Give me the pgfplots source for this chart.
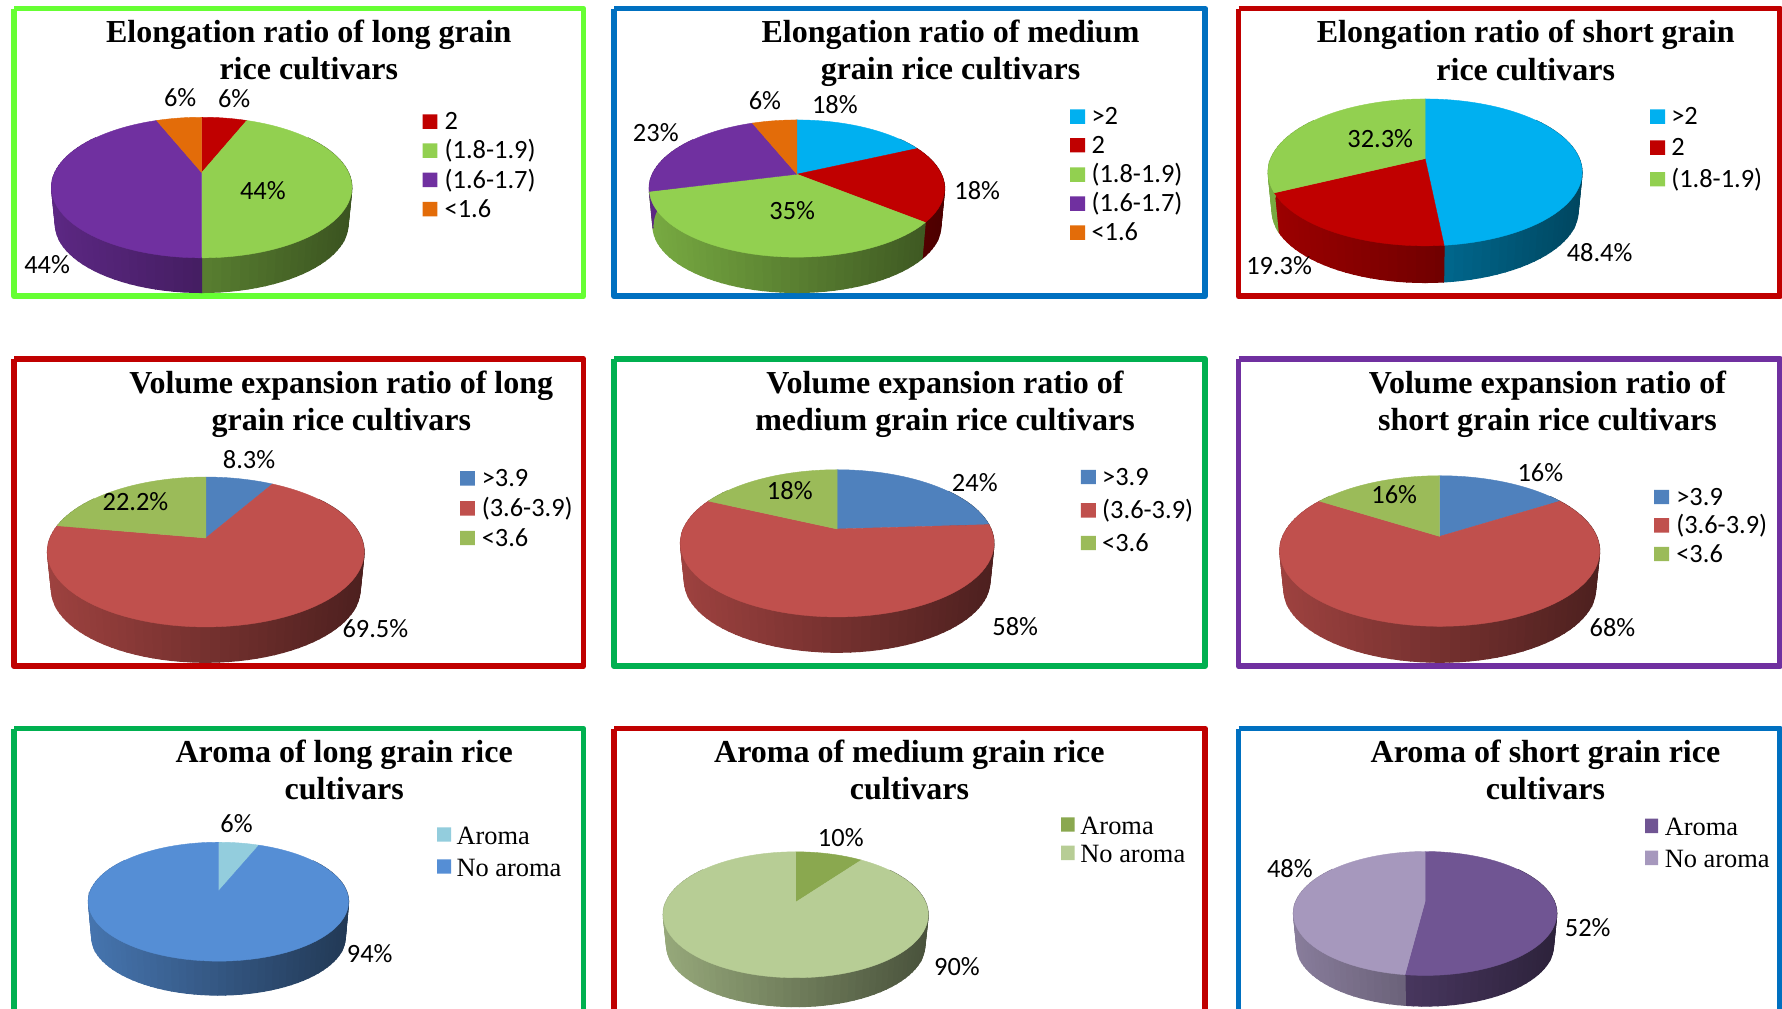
\documentclass[border=0pt]{standalone}
\usepackage{fontspec}
\usepackage{pgfplots}
\pgfplotsset{compat=1.18}
\setmainfont{Carlito}
\newfontfamily\serifface{Liberation Serif}

% slice palettes
\definecolor{eBlue}{HTML}{00B0F0}
\definecolor{eRed}{HTML}{C00000}
\definecolor{eGreen}{HTML}{92D050}
\definecolor{ePurple}{HTML}{7030A0}
\definecolor{eOrange}{HTML}{E36C09}
\definecolor{vBlue}{HTML}{4F81BD}
\definecolor{vRed}{HTML}{C0504D}
\definecolor{vGreen}{HTML}{9BBB59}
\definecolor{aCyan}{HTML}{93CDDD}
\definecolor{aBlue}{HTML}{558ED5}
\definecolor{aOlive}{HTML}{8AA84F}
\definecolor{aSage}{HTML}{B7CD95}
\definecolor{aPlum}{HTML}{705593}
\definecolor{aLilac}{HTML}{A698BD}
% panel frames
\definecolor{fLime}{HTML}{66FF33}
\definecolor{fBlue}{HTML}{0070C0}
\definecolor{fRed}{HTML}{C00000}
\definecolor{fGreen}{HTML}{00B050}
\definecolor{fPurple}{HTML}{7030A0}

% Point of the disc rim at angle #1 (clockwise from twelve o'clock), seen in perspective
\newcommand{\RimPoint}[1]{%
  \pgfmathsetmacro\Xr{\pb*sin(#1)/(1+\pk*cos(#1))}%
  \pgfmathsetmacro\Yr{-\pa*cos(#1)/(1+\pk*cos(#1))}%
  \pgfmathsetmacro\Xt{\ax+\Xr}%
  \pgfmathsetmacro\Yt{\ay+\Yr}%
  \pgfmathsetmacro\Xb{\ax+0.975*\Xr}%
  \pgfmathsetmacro\Yb{\ay+\dep+0.975*\Yr}%
}

% #1,#2 centre; #3 top edge; #4 front edge of the disc; #5 half width; #6 lowest edge; #7 value/colour list
\newcommand{\PieChart}[7]{%
  \def\ax{#1}\def\ay{#2}\def\hw{#5}%
  \pgfmathsetmacro\pk{((#4-#2)-(#2-#3))/((#4-#2)+(#2-#3))}%
  \pgfmathsetmacro\pa{(#4-#2)*(1-\pk)}%
  \pgfmathsetmacro\pb{#5*sqrt(1-\pk*\pk)}%
  \pgfmathsetmacro\dep{#6-#2-0.975*(#4-#2)}%
  % side wall, shaded from left to right
  \gdef\cum{0}%
  \foreach \val/\col in {#7}{%
    \pgfmathsetmacro\endang{\cum+3.6*\val}%
    \pgfmathtruncatemacro\nstr{ceil((\endang-\cum)/3)}%
    \pgfmathsetmacro\stp{(\endang-\cum)/\nstr}%
    \foreach \i in {1,...,\nstr}{%
      \pgfmathsetmacro\tA{\cum+(\i-1)*\stp}%
      \pgfmathsetmacro\tB{\cum+\i*\stp}%
      \pgfmathtruncatemacro\vis{cos(0.5*(\tA+\tB))>0.6 ? 0 : 1}%
      \ifnum\vis=1
        \RimPoint{\tA}%
        \edef\pA{(\Xt,\Yt)}\edef\pD{(\Xb,\Yb)}\let\xa\Xr
        \RimPoint{\tB}%
        \edef\pB{(\Xt,\Yt)}\edef\pC{(\Xb,\Yb)}%
        \pgfmathsetmacro\pct{82-42*(0.5*(\xa+\Xr)+\hw)/(2*\hw)}%
        \edef\tmp{\noexpand\addplot[fill=\col!\pct!black,draw=\col!\pct!black,line width=0.5pt] coordinates {\pA \pB \pC \pD \pA};}%
        \tmp
      \fi
    }%
    \xdef\cum{\endang}%
  }%
  % top surface
  \gdef\cum{0}%
  \foreach \val/\col in {#7}{%
    \pgfmathsetmacro\endang{\cum+3.6*\val}%
    \pgfmathtruncatemacro\nstr{ceil((\endang-\cum)/3)}%
    \pgfmathsetmacro\stp{(\endang-\cum)/\nstr}%
    \xdef\coords{(\ax,\ay)}%
    \foreach \i in {0,...,\nstr}{%
      \pgfmathsetmacro\tA{\cum+\i*\stp}%
      \RimPoint{\tA}%
      \xdef\coords{\coords (\Xt,\Yt)}%
    }%
    \edef\tmp{\noexpand\addplot[fill=\col,draw=\col,line width=0.2pt] coordinates {\coords (\ax,\ay)};}%
    \tmp
    \xdef\cum{\endang}%
  }%
}

% panel outline: x0, x1, y0, y1, colour
\newcommand{\Frame}[5]{%
  \addplot[draw=#5,line width=2.9pt,line join=round] coordinates {(#1,#3) (#2,#3) (#2,#4) (#1,#4) (#1,#3)};%
}
% two-line bold heading: centre x, first baseline, second baseline, lines
\newcommand{\Heading}[5]{%
  \node[anchor=base,inner sep=0pt,yshift=-0.6pt,font=\serifface\bfseries\fontsize{16}{18}\selectfont] at (#1,#2) {#4};%
  \node[anchor=base,inner sep=0pt,yshift=-0.6pt,font=\serifface\bfseries\fontsize{16}{18}\selectfont] at (#1,#3) {#5};%
}
% data label centred on x,y
\newcommand{\Lab}[3]{%
  \node[anchor=base,inner sep=0pt,yshift=-4.1pt,font=\fontsize{13.2}{15}\selectfont] at (#1,#2) {#3};%
}
% legend row: swatch left, right, centre y, colour; text x, text, font
\newcommand{\Key}[7]{%
  \pgfmathsetmacro\ka{#3-7.2}\pgfmathsetmacro\kb{#3+7.2}%
  \edef\tmp{\noexpand\addplot[fill=#4,draw=none] coordinates {(#1,\ka) (#2,\ka) (#2,\kb) (#1,\kb) (#1,\ka)};}%
  \tmp
  \node[anchor=base west,inner sep=0pt,yshift=-4.1pt,font=#7\fontsize{13.2}{15}\selectfont] at (#5,#3) {#6};%
}

\begin{document}
\begin{tikzpicture}
\begin{axis}[
  scale only axis,
  width=891pt,
  height=504.2pt,
  xmin=0, xmax=1782,
  ymin=0, ymax=1009,
  y dir=reverse,
  hide axis,
]
% white sheet over the whole drawing area
\addplot[fill=white,draw=none] coordinates {(0,0) (1782,0) (1782,1009) (0,1009) (0,0)};
% panel outlines
\Frame{14}{583.5}{8.5}{296.5}{fLime}
\Frame{614}{1205}{8.5}{296.5}{fBlue}
\Frame{1238.5}{1780}{8.5}{296.5}{fRed}
\Frame{14}{583.5}{359}{666.5}{fRed}
\Frame{614}{1205}{359}{666.5}{fGreen}
\Frame{1238.5}{1780}{359}{666.5}{fPurple}
\Frame{14}{583.5}{729}{1030}{fGreen}
\Frame{614}{1205}{729}{1030}{fRed}
\Frame{1238.5}{1780}{729}{1030}{fBlue}

% elongation ratio
\PieChart{201.7}{172.7}{117.3}{258}{150.2}{292.7}{6/eRed,44/eGreen,44/ePurple,6/eOrange}
\PieChart{796.9}{174.3}{120}{257.3}{147.7}{292.7}{18/eBlue,18/eRed,35/eGreen,23/ePurple,6/eOrange}
\PieChart{1425.1}{158.7}{99}{246}{157}{282.7}{48.4/eBlue,19.3/eRed,32.3/eGreen}
% volume expansion ratio
\PieChart{205.8}{538.3}{477.3}{627.3}{158.4}{662.7}{8.3/vBlue,69.5/vRed,22.2/vGreen}
\PieChart{837.2}{529.3}{470}{617.3}{156.8}{652.7}{24/vBlue,58/vRed,18/vGreen}
\PieChart{1439.7}{536.7}{476}{626.7}{160}{662.7}{16/vBlue,68/vRed,16/vGreen}
% aroma
\PieChart{218.5}{891.7}{842.7}{961.7}{130.1}{995.7}{6/aCyan,94/aBlue}
\PieChart{795.7}{902.7}{852.3}{978.3}{132.5}{1007.3}{10/aOlive,90/aSage}
\PieChart{1425.1}{901.7}{852}{976}{131.7}{1006.7}{52/aPlum,48/aLilac}

% headings
\Heading{308.8}{41.7}{78.3}{Elongation ratio of long grain}{rice cultivars}
\Heading{950.5}{41.7}{78.3}{Elongation ratio of medium}{grain rice cultivars}
\Heading{1525.7}{41.7}{79}{Elongation ratio of short grain}{rice cultivars}
\Heading{341.3}{392.3}{429.3}{Volume expansion ratio of long}{grain rice cultivars}
\Heading{945}{392.3}{429.3}{Volume expansion ratio of}{medium grain rice cultivars}
\Heading{1547.4}{392.3}{429.3}{Volume expansion ratio of}{short grain rice cultivars}
\Heading{344.2}{761.7}{798.3}{Aroma of long grain rice}{cultivars}
\Heading{909.4}{761.7}{799}{Aroma of medium grain rice}{cultivars}
\Heading{1545.5}{761.7}{798.3}{Aroma of short grain rice}{cultivars}

% slice labels
\Lab{180.2}{98}{6\%}\Lab{234.2}{99}{6\%}\Lab{262.9}{191}{44\%}\Lab{47.1}{265}{44\%}
\Lab{834.9}{105}{18\%}\Lab{977.2}{191}{18\%}\Lab{792.2}{211}{35\%}\Lab{655.8}{133}{23\%}\Lab{764.9}{101}{6\%}
\Lab{1599.6}{253}{48.4\%}\Lab{1279.1}{266}{19.3\%}\Lab{1380.2}{139}{32.3\%}
\Lab{249.1}{461}{8.3\%}\Lab{375.4}{630}{69.5\%}\Lab{135.5}{503}{22.2\%}
\Lab{974.8}{484}{24\%}\Lab{1015.2}{628}{58\%}\Lab{789.8}{492}{18\%}
\Lab{1540.4}{474}{16\%}\Lab{1612.5}{629}{68\%}\Lab{1394.2}{496}{16\%}
\Lab{236.5}{825}{6\%}\Lab{369.7}{955}{94\%}
\Lab{840.8}{839}{10\%}\Lab{957}{968}{90\%}
\Lab{1289.9}{870}{48\%}\Lab{1587.7}{929}{52\%}

% legends
\Key{422.5}{437.4}{121.7}{eRed}{444.3}{2}{}
\Key{422.5}{437.4}{150.7}{eGreen}{444.3}{(1.8-1.9)}{}
\Key{422.5}{437.4}{180}{ePurple}{444.3}{(1.6-1.7)}{}
\Key{422.5}{437.4}{209.3}{eOrange}{444.3}{<1.6}{}

\Key{1070.1}{1085.2}{116.7}{eBlue}{1091.1}{>2}{}
\Key{1070.1}{1085.2}{145.3}{eRed}{1091.1}{2}{}
\Key{1070.1}{1085.2}{174.7}{eGreen}{1091.1}{(1.8-1.9)}{}
\Key{1070.1}{1085.2}{203.7}{ePurple}{1091.1}{(1.6-1.7)}{}
\Key{1070.1}{1085.2}{232.7}{eOrange}{1091.1}{<1.6}{}

\Key{1650.1}{1665.2}{116.7}{eBlue}{1670.9}{>2}{}
\Key{1650.1}{1665.2}{147.7}{eRed}{1670.9}{2}{}
\Key{1650.1}{1665.2}{179.3}{eGreen}{1670.9}{(1.8-1.9)}{}

\Key{460}{474.9}{478.7}{vBlue}{481.4}{>3.9}{}
\Key{460}{474.9}{508.7}{vRed}{481.4}{(3.6-3.9)}{}
\Key{460}{474.9}{538.3}{vGreen}{481.4}{<3.6}{}

\Key{1080.8}{1095.8}{477.3}{vBlue}{1101.8}{>3.9}{}
\Key{1080.8}{1095.8}{510.7}{vRed}{1101.8}{(3.6-3.9)}{}
\Key{1080.8}{1095.8}{543.3}{vGreen}{1101.8}{<3.6}{}

\Key{1654.1}{1669.2}{497.3}{vBlue}{1675.9}{>3.9}{}
\Key{1654.1}{1669.2}{525.7}{vRed}{1675.9}{(3.6-3.9)}{}
\Key{1654.1}{1669.2}{554.3}{vGreen}{1675.9}{<3.6}{}

\Key{437}{451.2}{835}{aCyan}{456.1}{\raisebox{-0.7pt}{Aroma}}{\serifface}
\Key{437}{451.2}{867}{aBlue}{456.1}{\raisebox{-0.7pt}{No aroma}}{\serifface}
\Key{1061.1}{1074.5}{825}{aOlive}{1080}{\raisebox{-0.7pt}{Aroma}}{\serifface}
\Key{1061.1}{1074.5}{853.3}{aSage}{1080}{\raisebox{-0.7pt}{No aroma}}{\serifface}
\Key{1645.1}{1658}{826.3}{aPlum}{1664.4}{\raisebox{-0.7pt}{Aroma}}{\serifface}
\Key{1645.1}{1658}{858.3}{aLilac}{1664.4}{\raisebox{-0.7pt}{No aroma}}{\serifface}
\end{axis}
\end{tikzpicture}
\end{document}
